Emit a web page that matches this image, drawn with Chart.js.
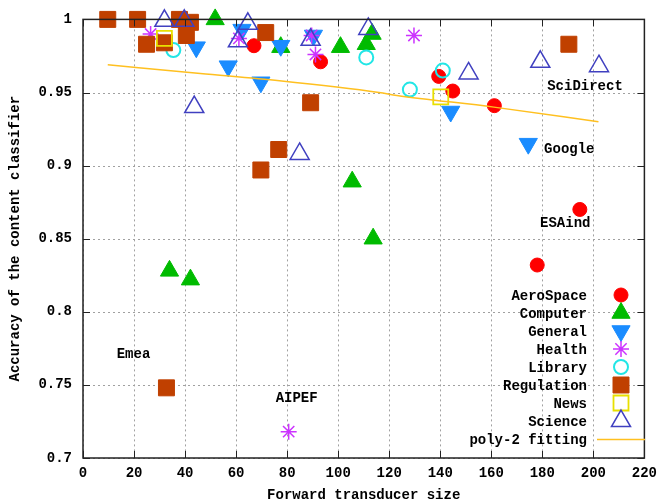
<!DOCTYPE html>
<html><head><meta charset="utf-8">
<script src="https://cdn.jsdelivr.net/npm/chart.js@4.4.1/dist/chart.umd.min.js"></script>
<style>html,body{margin:0;padding:0;background:#fff}#wrap{width:664px;height:502px}</style>
</head><body><div id="wrap"><canvas id="c" width="664" height="502"></canvas></div>
<script>
// ---- data ----
const xTickValues = [0,20,40,60,80,100,120,140,160,180,200,220];
const yTickLabels = ['0.7','0.75','0.8','0.85','0.9','0.95','1'];

const aeroX = [67.0, 93.1, 139.4, 144.9, 161.2, 194.7, 178.0];
const aeroY = [0.982, 0.971, 0.961, 0.951, 0.941, 0.870, 0.832];

const compX = [51.8, 77.5, 100.9, 111.0, 113.3, 105.5, 113.7, 33.9, 42.1];
const compY = [1.000, 0.981, 0.981, 0.983, 0.990, 0.889, 0.850, 0.828, 0.822];

const genX = [44.4, 56.9, 69.7, 62.3, 77.5, 90.3, 144.1, 174.5];
const genY = [0.981, 0.968, 0.957, 0.993, 0.982, 0.989, 0.937, 0.915];

const healthX = [26.5, 61.1, 89.6, 91.1, 129.7, 80.6];
const healthY = [0.990, 0.987, 0.989, 0.976, 0.989, 0.718];

const libX = [35.4, 111.0, 128.1, 141.0];
const libY = [0.979, 0.974, 0.952, 0.965];

const regX = [9.7, 21.4, 24.9, 31.9, 37.8, 42.1, 40.5, 71.6, 190.4, 89.2, 76.7, 69.7, 32.7];
const regY = [1.000, 1.000, 0.983, 0.984, 1.000, 0.998, 0.989, 0.991, 0.983, 0.943, 0.911, 0.897, 0.748];

const newsX = [31.9, 140.2];
const newsY = [0.987, 0.947];

const sciX = [31.9, 39.7, 64.6, 60.7, 89.2, 111.8, 84.9, 43.6, 151.1, 179.2, 202.2];
const sciY = [0.999, 0.999, 0.997, 0.985, 0.986, 0.9935, 0.908, 0.940, 0.963, 0.971, 0.968];

const fitX = [9.7, 46, 77, 116, 123, 161, 202];
const fitY = [0.969, 0.963, 0.958, 0.950, 0.948, 0.940, 0.930];

const seriesNames = ['AeroSpace','Computer','General','Health','Library','Regulation','News','Science','poly-2 fitting'];

const annotTexts = ['SciDirect','Google','ESAind','Emea','AIPEF'];
const annotX = [181.9, 180.7, 179.1, 13.2, 75.5];
const annotY = [0.9544, 0.9109, 0.8605, 0.7707, 0.7408];

// ---- build ----
const pts = (xs, ys) => xs.map((x, i) => ({x, y: ys[i]}));
const FONT = "bold 14px 'Liberation Mono', 'DejaVu Sans Mono', monospace";

const styles = [
  {pointStyle:'circle', radius:7, bg:'#ff0000', bc:'#ff0000', bw:1, rot:0},
  {pointStyle:'triangle', radius:10.5, bg:'#00bb00', bc:'#00bb00', bw:1, rot:0},
  {pointStyle:'triangle', radius:10.5, bg:'#1a8cff', bc:'#1a8cff', bw:1, rot:180},
  {pointStyle:'star', radius:8, bg:'#cc33ff', bc:'#cc33ff', bw:1.5, rot:0},
  {pointStyle:'circle', radius:7, bg:'rgba(0,0,0,0)', bc:'#22e6e6', bw:2, rot:0},
  {pointStyle:'rect', radius:11.3, bg:'#c04000', bc:'#c04000', bw:1, rot:0},
  {pointStyle:'rect', radius:10.6, bg:'rgba(0,0,0,0)', bc:'#e8e000', bw:1.8, rot:0},
  {pointStyle:'triangle', radius:11, bg:'rgba(0,0,0,0)', bc:'#4040c0', bw:1.5, rot:0},
];
const allX = [aeroX, compX, genX, healthX, libX, regX, newsX, sciX];
const allY = [aeroY, compY, genY, healthY, libY, regY, newsY, sciY];

const datasets = allX.map((xs, i) => ({
  label: seriesNames[i],
  data: pts(xs, allY[i]),
  pointStyle: styles[i].pointStyle,
  pointRadius: styles[i].radius,
  pointHoverRadius: styles[i].radius,
  pointBackgroundColor: styles[i].bg,
  pointBorderColor: styles[i].bc,
  pointBorderWidth: styles[i].bw,
  pointRotation: styles[i].rot,
  showLine: false,
  clip: false,
  order: 20 - i
}));
datasets.push({
  label: seriesNames[8],
  data: pts(fitX, fitY),
  showLine: true,
  borderColor: '#ffc020',
  borderWidth: 1.5,
  pointRadius: 0,
  tension: 0.4,
  cubicInterpolationMode: 'monotone',
  fill: false,
  order: 0
});

function drawMarker(ctx, s, x, y) {
  ctx.save();
  ctx.fillStyle = s.bg; ctx.strokeStyle = s.bc; ctx.lineWidth = s.bw;
  const r = s.radius;
  ctx.beginPath();
  if (s.pointStyle === 'circle') {
    ctx.arc(x, y, r, 0, Math.PI * 2);
  } else if (s.pointStyle === 'rect') {
    const h = Math.SQRT1_2 * r;
    ctx.rect(x - h, y - h, 2 * h, 2 * h);
  } else if (s.pointStyle === 'triangle') {
    let rad = s.rot * Math.PI / 180;
    for (let k = 0; k < 3; k++) {
      const px = x + Math.sin(rad) * r, py = y - Math.cos(rad) * r;
      if (k === 0) ctx.moveTo(px, py); else ctx.lineTo(px, py);
      rad += 2 * Math.PI / 3;
    }
    ctx.closePath();
  } else if (s.pointStyle === 'star') {
    for (let k = 0; k < 4; k++) {
      const a = k * Math.PI / 4;
      ctx.moveTo(x - Math.cos(a) * r, y - Math.sin(a) * r);
      ctx.lineTo(x + Math.cos(a) * r, y + Math.sin(a) * r);
    }
  }
  ctx.fill(); ctx.stroke();
  ctx.restore();
}

const framePlugin = {
  id: 'frame',
  beforeDatasetsDraw(chart) {
    const {ctx, chartArea: a, scales: {x, y}} = chart;
    ctx.save();
    ctx.strokeStyle = '#a0a0a0'; ctx.lineWidth = 1; ctx.setLineDash([2, 3]);
    xTickValues.forEach(v => {
      const px = Math.round(x.getPixelForValue(v)) + 0.5;
      ctx.beginPath(); ctx.moveTo(px, a.top); ctx.lineTo(px, a.bottom); ctx.stroke();
    });
    y.ticks.forEach(t => {
      const py = Math.round(y.getPixelForValue(t.value)) + 0.5;
      ctx.beginPath(); ctx.moveTo(a.left, py); ctx.lineTo(a.right, py); ctx.stroke();
    });
    ctx.restore();
  },
  afterDatasetsDraw(chart) {
    const {ctx, chartArea: a, scales: {x, y}} = chart;
    ctx.save();
    ctx.strokeStyle = '#222'; ctx.lineWidth = 1.5; ctx.setLineDash([]);
    ctx.strokeRect(a.left, a.top, a.right - a.left, a.bottom - a.top);
    ctx.lineWidth = 1;
    ctx.beginPath();
    xTickValues.forEach(v => {
      const px = Math.round(x.getPixelForValue(v)) + 0.5;
      ctx.moveTo(px, a.bottom); ctx.lineTo(px, a.bottom - 7);
      ctx.moveTo(px, a.top); ctx.lineTo(px, a.top + 7);
    });
    y.ticks.forEach(t => {
      const py = Math.round(y.getPixelForValue(t.value)) + 0.5;
      ctx.moveTo(a.left, py); ctx.lineTo(a.left + 7, py);
      ctx.moveTo(a.right, py); ctx.lineTo(a.right - 7, py);
    });
    ctx.stroke();

    // annotations
    ctx.font = FONT; ctx.fillStyle = '#000'; ctx.textBaseline = 'middle'; ctx.textAlign = 'left';
    annotTexts.forEach((t, i) => {
      ctx.fillText(t, x.getPixelForValue(annotX[i]), y.getPixelForValue(annotY[i]));
    });

    // legend
    const rowH = 18, top0 = 295, textRight = 587, markX = 621;
    ctx.textAlign = 'right';
    seriesNames.forEach((n, i) => {
      const yy = top0 + i * rowH;
      ctx.fillStyle = '#000';
      ctx.fillText(n, textRight, yy + 1);
      if (i < 8) drawMarker(ctx, styles[i], markX, yy);
      else {
        ctx.strokeStyle = '#ffc020'; ctx.lineWidth = 1.5;
        ctx.beginPath(); ctx.moveTo(597, yy + 0.5); ctx.lineTo(645, yy + 0.5); ctx.stroke();
      }
    });

    // axis titles
    ctx.fillStyle = '#000'; ctx.textAlign = 'center';
    ctx.fillText('Forward transducer size', (a.left + a.right) / 2, 495);
    ctx.translate(15, (a.top + a.bottom) / 2);
    ctx.rotate(-Math.PI / 2);
    ctx.fillText('Accuracy of the content classifier', 0, 0);
    ctx.restore();
  }
};

new Chart(document.getElementById('c'), {
  type: 'scatter',
  data: {datasets},
  options: {
    responsive: false,
    animation: false,
    devicePixelRatio: 1,
    layout: {padding: {left: 0, top: 17, right: 16, bottom: 0}},
    plugins: {legend: {display: false}, tooltip: {enabled: false}},
    scales: {
      x: {
        type: 'linear', min: 0, max: 220,
        afterFit(s) { s.height = 44; },
        afterBuildTicks(s) { s.ticks = xTickValues.map(v => ({value: v})); },
        ticks: {color: '#000', font: {family: "'Liberation Mono', 'DejaVu Sans Mono', monospace", size: 14, weight: 'bold'}, padding: 7, maxRotation: 0, autoSkip: false, callback: v => String(v)},
        grid: {display: false, drawTicks: false},
        border: {display: false}
      },
      y: {
        type: 'linear', min: 0.7, max: 1,
        afterFit(s) { s.width = 83; },
        afterBuildTicks(s) { s.ticks = yTickLabels.map(l => ({value: parseFloat(l)})); },
        ticks: {color: '#000', font: {family: "'Liberation Mono', 'DejaVu Sans Mono', monospace", size: 14, weight: 'bold'}, padding: 11, autoSkip: false,
          callback: (v, i) => yTickLabels[i]},
        grid: {display: false, drawTicks: false},
        border: {display: false}
      }
    }
  },
  plugins: [framePlugin]
});
</script>
</body></html>
